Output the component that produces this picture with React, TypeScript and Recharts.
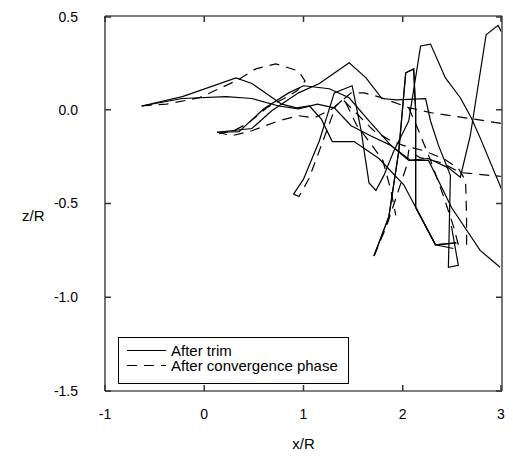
import { LineChart, Line, XAxis, YAxis, Legend, Label } from "recharts"

// vortex trajectories, [x/R, z/R]
const trimA1 = [[-0.63, 0.02], [-0.22, 0.07], [0.32, 0.17], [0.48, 0.14], [0.78, 0.03], [0.93, 0.01], [1.06, 0.02], [1.18, -0.05], [1.29, -0.17], [1.51, -0.17], [1.76, -0.26], [2.01, -0.4], [2.13, -0.52], [2.33, -0.72], [2.51, -0.74]]
const trimA2 = [[-0.63, 0.02], [-0.22, 0.06], [0.22, 0.07], [0.48, 0.06], [0.75, 0.02], [0.95, 0.005], [1.14, 0.03], [1.31, 0.01], [1.48, -0.085], [1.68, -0.14], [1.88, -0.19], [2.06, -0.27], [2.26, -0.26], [2.46, -0.31], [2.58, -0.36], [2.68, -0.14], [2.84, 0.4], [2.96, 0.45], [3.0, 0.41]]
const trimB1 = [[0.13, -0.12], [0.48, -0.1], [0.68, -0.005], [0.95, 0.09], [1.16, 0.14], [1.46, 0.25], [1.63, 0.17], [1.79, 0.06], [1.94, 0.053], [2.23, 0.059], [2.28, -0.06], [2.36, -0.19], [2.48, -0.35], [2.46, -0.84], [2.56, -0.83], [2.49, -0.62]]
const trimB2 = [[0.13, -0.12], [0.35, -0.117], [0.6, 0.005], [0.85, 0.09], [1.0, 0.128], [1.26, 0.112], [1.46, 0.064], [1.66, -0.059], [1.88, -0.19], [2.08, -0.27], [2.26, -0.27], [2.49, -0.52], [2.78, -0.75], [2.98, -0.84]]
const trimC = [[0.9, -0.45], [1.0, -0.37], [1.16, -0.165], [1.31, 0.09], [1.49, 0.128], [1.58, -0.11], [1.66, -0.39], [1.73, -0.43], [1.81, -0.35], [1.91, -0.22], [2.06, -0.06], [2.18, 0.34], [2.28, 0.35], [2.43, 0.17], [2.58, 0.064], [2.69, -0.043], [2.78, -0.15], [3.0, -0.43]]
const trimD = [[1.71, -0.78], [1.86, -0.57], [1.96, -0.22], [2.03, 0.197], [2.11, 0.218], [2.13, -0.005], [2.13, -0.52], [2.33, -0.72], [2.54, -0.71]]

const convA = [[-0.63, 0.02], [-0.38, 0.03], [-0.05, 0.064], [0.32, 0.154], [0.52, 0.218], [0.72, 0.245], [0.95, 0.207], [1.015, 0.154], [0.935, 0.101], [0.8, 0.059], [0.63, 0.011], [0.45, -0.069], [0.3, -0.112], [0.15, -0.128]]
const convB = [[0.13, -0.12], [0.28, -0.138], [0.48, -0.112], [0.75, -0.059], [0.95, -0.032], [1.11, -0.043], [1.29, 0.005], [1.48, 0.09], [1.61, 0.09], [1.76, 0.069], [2.06, 0.011], [2.29, -0.016], [2.63, -0.043], [2.83, -0.059], [3.0, -0.074]]
const convC = [[0.9, -0.45], [0.955, -0.463], [1.055, -0.367], [1.186, -0.181], [1.327, 0.021], [1.407, 0.059], [1.538, -0.085], [1.678, -0.181], [1.8, -0.271], [1.88, -0.43], [1.93, -0.564]]
const convD = [[1.71, -0.78], [1.84, -0.617], [1.94, -0.457], [2.04, -0.298], [2.06, -0.218], [2.17, -0.255], [2.39, -0.282], [2.58, -0.335], [3.0, -0.356]]
const convE = [[1.407, 0.048], [1.558, -0.032], [1.709, -0.112], [1.879, -0.165], [2.01, -0.191], [2.21, -0.218], [2.41, -0.261], [2.563, -0.314], [2.633, -0.378], [2.643, -0.564], [2.643, -0.723], [2.593, -0.734]]
const convF = [[2.06, 0.011], [2.16, -0.112], [2.28, -0.27], [2.41, -0.46], [2.51, -0.62], [2.56, -0.72]]

const xTicks = [-1, 0, 1, 2, 3]
const zTicks = [-1.5, -1, -0.5, 0, 0.5]

const solid = [trimA1, trimA2, trimB1, trimB2, trimC, trimD]
const dashed = [convA, convB, convC, convD, convE, convF]

const DASH = "10 7"
const FONT = "'Liberation Sans', Arial, Helvetica, sans-serif"
const TICK_LEN = 6
const X_GAP = 18
const Y_GAP = 27

const toRows = (pts: number[][]) => pts.map(([x, z]) => ({ x, z }))

// ticks point into the plot, labels sit outside
const BottomTick = (p: any) => (
  <g>
    <line x1={p.x} x2={p.x} y1={p.y - X_GAP} y2={p.y - X_GAP - TICK_LEN} stroke="#333" strokeWidth={1.5} />
    <text x={p.x} y={p.y} dy="0.71em" textAnchor="middle" fill="#000" fontSize={14} fontFamily={FONT}>
      {String(p.payload.value)}
    </text>
  </g>
)
const LeftTick = (p: any) => (
  <g>
    <line x1={p.x + Y_GAP} x2={p.x + Y_GAP + TICK_LEN} y1={p.y} y2={p.y} stroke="#333" strokeWidth={1.5} />
    <text x={p.x} y={p.y} dy="0.355em" textAnchor="end" fill="#000" fontSize={14} fontFamily={FONT}>
      {Number(p.payload.value).toFixed(1)}
    </text>
  </g>
)
const TopTick = (p: any) => <line x1={p.x} x2={p.x} y1={p.y} y2={p.y + TICK_LEN} stroke="#333" strokeWidth={1.5} />
const RightTick = (p: any) => <line x1={p.x} x2={p.x - TICK_LEN} y1={p.y} y2={p.y} stroke="#333" strokeWidth={1.5} />

const LegendBox = () => (
  <div
    style={{
      width: 229,
      height: 40,
      border: "1px solid #000",
      background: "#fff",
      fontFamily: FONT,
      fontSize: 15,
      color: "#000",
      paddingTop: 5,
      boxSizing: "content-box",
    }}
  >
    {[
      { label: "After trim", dash: undefined },
      { label: "After convergence phase", dash: DASH },
    ].map((item) => (
      <div key={item.label} style={{ display: "flex", alignItems: "center", height: 15, lineHeight: "15px", whiteSpace: "nowrap" }}>
        <svg width={44} height={15} style={{ marginLeft: 8, flexShrink: 0 }}>
          <line x1={0} x2={39} y1={7.5} y2={7.5} stroke="#000" strokeWidth={1.2} strokeDasharray={item.dash} />
        </svg>
        <span>{item.label}</span>
      </div>
    ))}
  </div>
)

export default function App() {
  return (
    <LineChart width={497} height={445} margin={{ top: 7, right: 2, left: 0, bottom: 0 }} style={{ fontFamily: FONT }}>
      <XAxis dataKey="x" type="number" domain={[-1, 3]} ticks={xTicks} tick={<BottomTick />} tickSize={0} tickMargin={X_GAP} height={62} stroke="#000" strokeWidth={1.2} allowDataOverflow>
        <Label value="x/R" position="insideBottom" offset={4} fill="#000" fontSize={15} fontFamily={FONT} />
      </XAxis>
      <XAxis xAxisId="top" dataKey="x" orientation="top" type="number" domain={[-1, 3]} ticks={xTicks} tick={<TopTick />} tickSize={0} tickMargin={0} height={1} stroke="#000" strokeWidth={1.2} allowDataOverflow />
      <YAxis dataKey="z" type="number" domain={[-1.5, 0.5]} ticks={zTicks} tick={<LeftTick />} tickSize={0} tickMargin={Y_GAP} width={97} stroke="#444" strokeWidth={1.5} allowDataOverflow>
        <Label value="z/R" position="insideLeft" offset={14} dy={12} fill="#000" fontSize={15} fontFamily={FONT} />
      </YAxis>
      <YAxis yAxisId="right" dataKey="z" orientation="right" type="number" domain={[-1.5, 0.5]} ticks={zTicks} tick={<RightTick />} tickSize={0} tickMargin={0} width={1} stroke="#777" strokeWidth={2} allowDataOverflow />
      {solid.map((pts, i) => (
        <Line key={"s" + i} data={toRows(pts)} dataKey="z" type="linear" stroke="#000" strokeWidth={1.2} dot={false} activeDot={false} isAnimationActive={false} />
      ))}
      {dashed.map((pts, i) => (
        <Line key={"d" + i} data={toRows(pts)} dataKey="z" type="linear" stroke="#000" strokeWidth={1.2} strokeDasharray={DASH} dot={false} activeDot={false} isAnimationActive={false} />
      ))}
      {/* same trajectory drawn against the top/right axes so those axes get laid out */}
      <Line data={toRows(trimD)} xAxisId="top" yAxisId="right" dataKey="z" type="linear" stroke="#000" strokeWidth={1.2} dot={false} activeDot={false} isAnimationActive={false} legendType="none" />
      <Legend layout="vertical" align="center" verticalAlign="middle" wrapperStyle={{ left: 110, top: 329, width: 231 }} content={() => <LegendBox />} />
    </LineChart>
  )
}
